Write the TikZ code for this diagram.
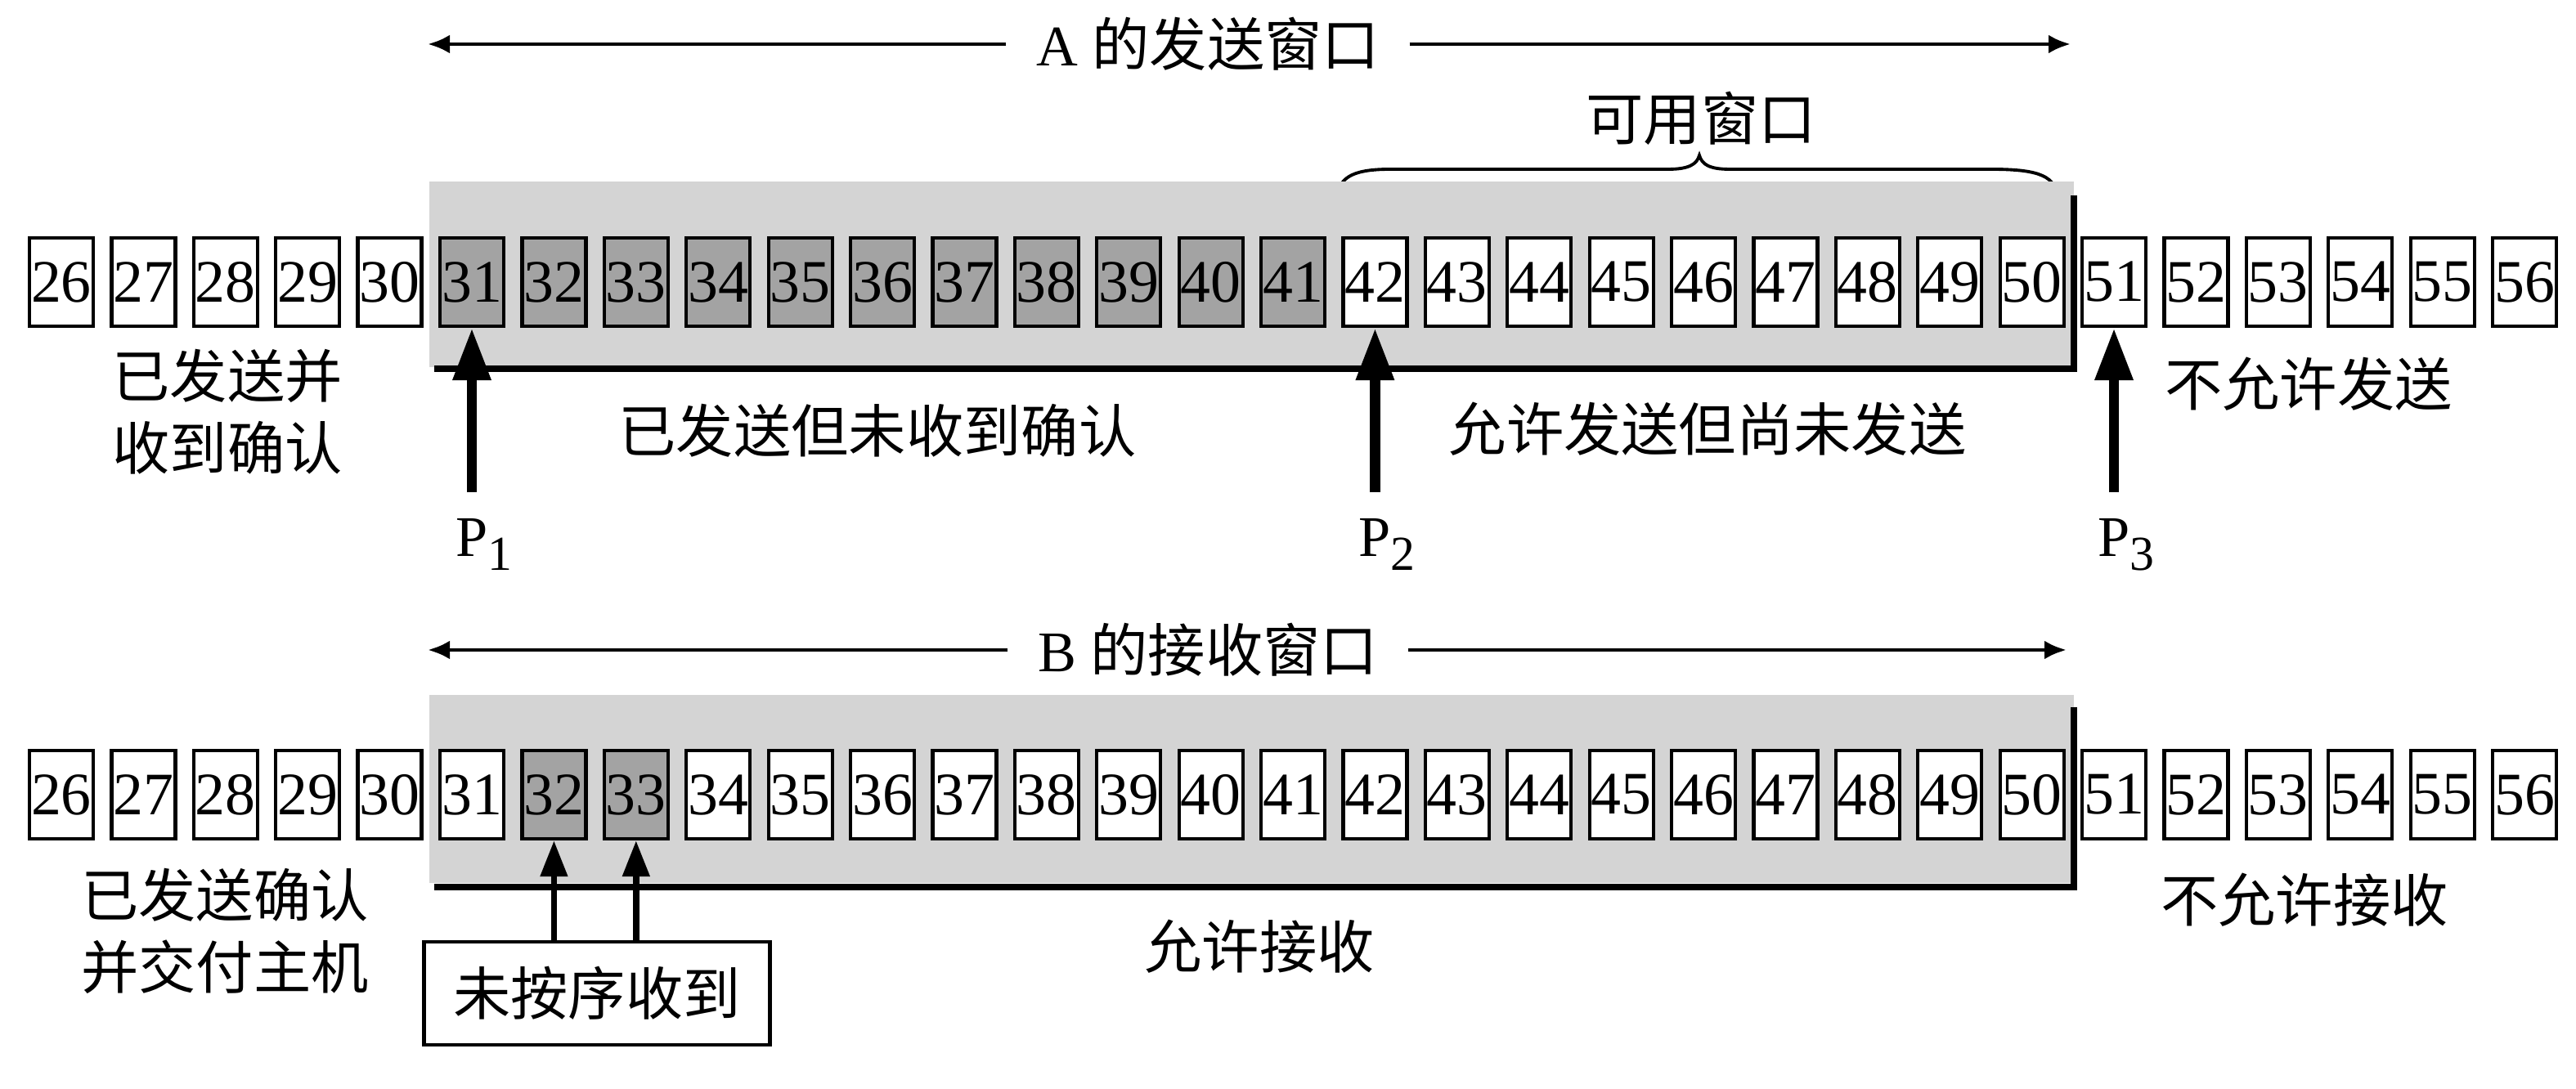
\documentclass[tikz,border=0pt]{standalone}
\usepackage{fontspec}
\setmainfont{Liberation Serif}
\newfontfamily\cjk{Noto Sans CJK SC}
\usetikzlibrary{arrows.meta}
\definecolor{winshade}{gray}{0.83}
\definecolor{sentfill}{gray}{0.64}

\begin{document}
\begin{tikzpicture}[
    every node/.style={font=\fontsize{20}{25}\selectfont},
    seqbox/.style={draw, line width=1.2pt, fill=white, minimum width=0.78cm, minimum height=1.08cm, inner sep=0pt, font=\fontsize{21}{24}\selectfont},
    cjktext/.style={font=\cjk\fontsize{20}{25}\selectfont, align=center},
    wintext/.style={cjktext, inner xsep=0.36cm},
    plabel/.style={inner sep=0pt, anchor=north},
    winarrow/.style={line width=1.4pt, -{Latex[length=0.27cm, width=0.23cm]}},
    pointer/.style={line width=3.6pt, -{Triangle[length=0.64cm, width=0.44cm]}},
    smallptr/.style={line width=2.2pt, -{Triangle[length=0.44cm, width=0.32cm]}},
    edgeline/.style={line width=2.3pt},
]
    \useasboundingbox (0,0) rectangle (31.5,13.31);

    % A's send window
    \node[wintext] (awin) at (14.77,12.77) {{\rmfamily A }的发送窗口};
    \coordinate (awinL) at (5.23,12.77);
    \coordinate (awinR) at (25.32,12.77);
    \draw[winarrow] (awin.west) -- (awinL);
    \draw[winarrow] (awin.east) -- (awinR);

    % usable window brace
    \draw[line width=1.1pt] (16.35,10.88) .. controls (16.37,11.12) and (16.5,11.24) .. (17.0,11.24) -- (20.4,11.24)
        .. controls (20.65,11.24) and (20.75,11.3) .. (20.78,11.41)
        .. controls (20.81,11.3) and (20.9,11.24) .. (21.15,11.24) -- (24.35,11.24)
        .. controls (24.95,11.24) and (25.15,11.15) .. (25.15,10.88);
    \node[cjktext] (usablewin) at (20.80,11.86) {可用窗口};

    % send window shade
    \fill[winshade] (5.25,8.82) rectangle (25.36,11.09);
    \draw[edgeline] (5.31,8.80) -- (25.36,8.80) -- (25.36,10.92);

    % sender sequence numbers
    \foreach \i in {26,...,56} {
        \pgfmathsetmacro{\x}{0.75+(\i-26)*1.004}
        \ifnum\i>30 \ifnum\i<42 \def\boxfill{sentfill}\else\def\boxfill{white}\fi\else\def\boxfill{white}\fi
        \node[seqbox, fill=\boxfill] (a\i) at (\x,9.86) {\i};
    }

    % P1
    \coordinate (p1tail) at ([yshift=-2.01cm]a31.south);
    \draw[pointer] (p1tail) -- (a31.south);
    \node[plabel] (p1) at ([yshift=-0.32cm]p1tail) {P\rlap{\raisebox{-0.17cm}{\fontsize{17}{17}\selectfont 1}}};

    % P2
    \coordinate (p2tail) at ([yshift=-2.01cm]a42.south);
    \draw[pointer] (p2tail) -- (a42.south);
    \node[plabel] (p2) at ([yshift=-0.32cm]p2tail) {P\rlap{\raisebox{-0.17cm}{\fontsize{17}{17}\selectfont 2}}};

    % P3
    \coordinate (p3tail) at ([yshift=-2.01cm]a51.south);
    \draw[pointer] (p3tail) -- (a51.south);
    \node[plabel] (p3) at ([yshift=-0.32cm]p3tail) {P\rlap{\raisebox{-0.17cm}{\fontsize{17}{17}\selectfont 3}}};

    % sender labels
    \node[cjktext] (acked) at (2.78,8.27) {已发送并\\收到确认};
    \node[cjktext] (unacked) at (10.73,8.04) {已发送但未收到确认};
    \node[cjktext] (unsent) at (20.88,8.06) {允许发送但尚未发送};
    \node[cjktext] (nosend) at (28.23,8.61) {不允许发送};

    % B's receive window
    \node[wintext] (bwin) at (14.77,5.36) {{\rmfamily B }的接收窗口};
    \coordinate (bwinL) at (5.23,5.36);
    \coordinate (bwinR) at (25.27,5.36);
    \draw[winarrow] (bwin.west) -- (bwinL);
    \draw[winarrow] (bwin.east) -- (bwinR);

    % receive window shade
    \fill[winshade] (5.25,2.51) rectangle (25.36,4.81);
    \draw[edgeline] (5.31,2.46) -- (25.36,2.46) -- (25.36,4.66);

    % receiver sequence numbers
    \foreach \i in {26,...,56} {
        \pgfmathsetmacro{\x}{0.75+(\i-26)*1.004}
        \ifnum\i>31 \ifnum\i<34 \def\boxfill{sentfill}\else\def\boxfill{white}\fi\else\def\boxfill{white}\fi
        \node[seqbox, fill=\boxfill] (b\i) at (\x,3.59) {\i};
    }

    % out of order
    \node[cjktext, draw, line width=1.2pt, minimum width=4.23cm, minimum height=1.26cm] (outorder) at (7.30,1.16) {未按序收到};
    \draw[smallptr] (outorder.north -| b32) -- (b32.south);
    \draw[smallptr] (outorder.north -| b33) -- (b33.south);

    % receiver labels
    \node[cjktext] (delivered) at (2.75,1.92) {已发送确认\\并交付主机};
    \node[cjktext] (rcvok) at (15.40,1.73) {允许接收};
    \node[cjktext] (norcv) at (28.18,2.30) {不允许接收};
\end{tikzpicture}
\end{document}
